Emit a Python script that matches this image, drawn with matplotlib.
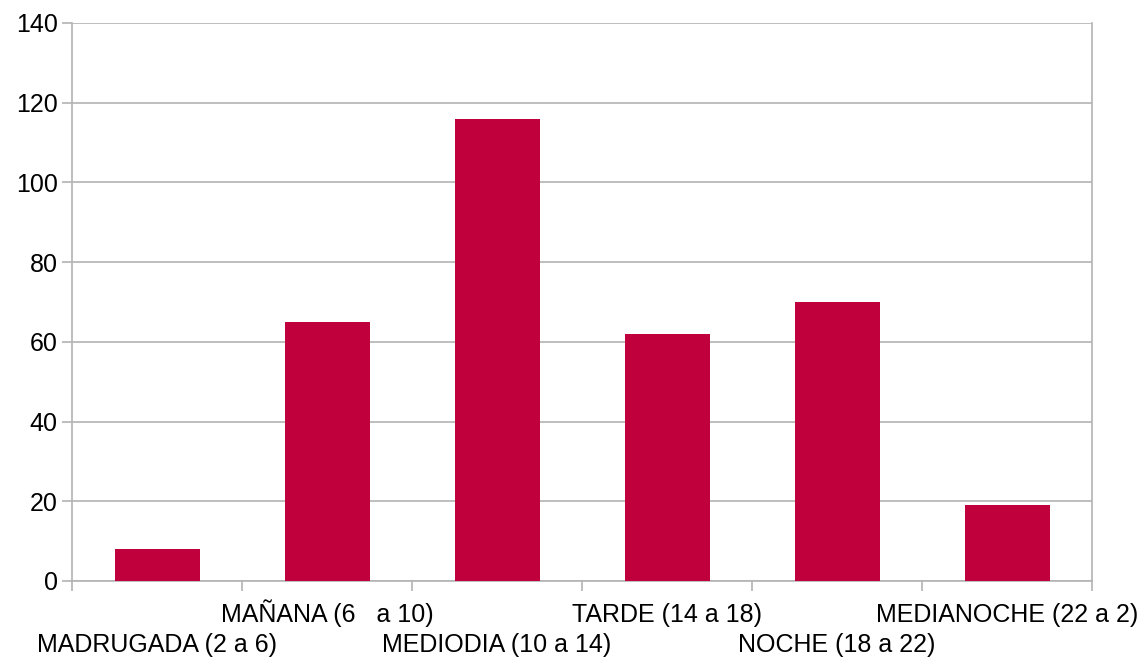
import matplotlib
matplotlib.use("Agg")
import matplotlib.pyplot as plt
import numpy as np

plt.rcParams['font.family'] = ['Liberation Sans', 'DejaVu Sans']

categories = ["MADRUGADA (2 a 6)", "MAÑANA (6   a 10)", "MEDIODIA (10 a 14)",
              "TARDE (14 a 18)", "NOCHE (18 a 22)", "MEDIANOCHE (22 a 2)"]
values = [8, 65, 116, 62, 70, 19]
yticks = [0, 20, 40, 60, 80, 100, 120, 140]

bar_color = "#c0003c"
grid_color = "#b3b3b3"

fig = plt.figure(figsize=(11.45, 6.59), dpi=100)
ax = fig.add_axes([72 / 1145, 78 / 659, 1020 / 1145, 558 / 659])

x = np.arange(len(categories))
ax.bar(x, values, width=0.5, color=bar_color, zorder=3)

ax.set_xlim(-0.5, len(categories) - 0.5)
ax.set_ylim(0, 140)
ax.set_yticks(yticks)
ax.yaxis.grid(True, color=grid_color, linewidth=1.2, zorder=0)

# category boundaries as ticks, labels staggered on two rows below
ax.set_xticks(np.arange(-0.5, len(categories)))
ax.set_xticklabels([])
ax.tick_params(axis="x", length=7.2, color=grid_color, width=1.2)
for i, c in enumerate(categories):
    dy = -51 if i % 2 == 0 else -29.5
    ax.annotate(c, xy=(x[i], 0), xycoords=("data", "axes fraction"),
                xytext=(0, dy), textcoords="offset points",
                ha="center", va="baseline", fontsize=18)

ax.tick_params(axis="y", length=7.2, color=grid_color, width=1.2, labelsize=18, pad=3)

ax.spines["top"].set_visible(False)
for side in ["left", "right", "bottom"]:
    ax.spines[side].set_color(grid_color)
    ax.spines[side].set_linewidth(1.2)

fig.savefig("out.png", dpi=100)
